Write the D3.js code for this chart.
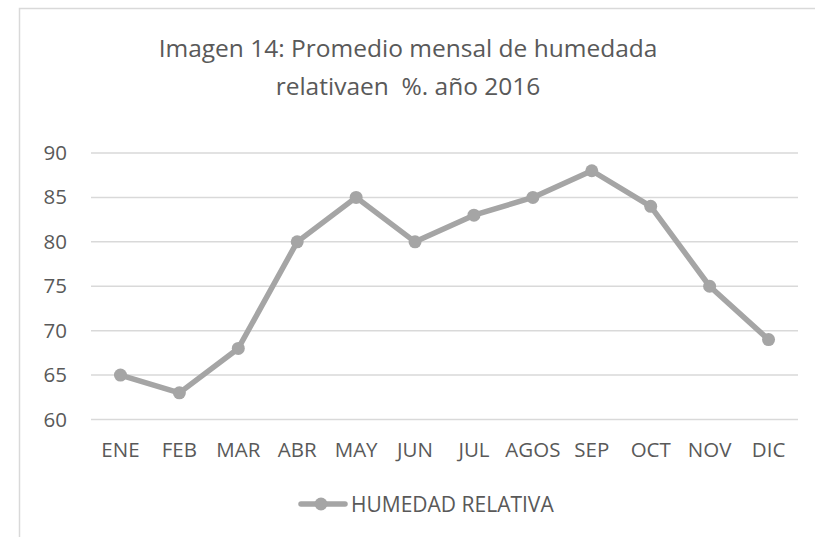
<!DOCTYPE html>
<html>
<head>
<meta charset="utf-8">
<script src="https://cdn.jsdelivr.net/npm/d3@7"></script>
<style>
  body { margin: 0; background: #fff; }
  text { font-family: "Open Sans", "Liberation Sans", sans-serif; fill: #595959; }
</style>
</head>
<body>
<svg width="815" height="537"></svg>
<script>
const width = 815;
const height = 537;

const months = ["ENE", "FEB", "MAR", "ABR", "MAY", "JUN", "JUL", "AGOS", "SEP", "OCT", "NOV", "DIC"];
const humedad = [65, 63, 68, 80, 85, 80, 83, 85, 88, 84, 75, 69];
const yTicks = [60, 65, 70, 75, 80, 85, 90];
const titleLines = ["Imagen 14: Promedio mensal de humedada", "relativaen  %. año 2016"];
const seriesName = "HUMEDAD RELATIVA";

const svg = d3.select("svg");
const lineColor = "#a5a5a5";

// chart frame
svg.append("rect")
    .attr("x", 19.5).attr("y", 8.5)
    .attr("width", 810).attr("height", 540)
    .attr("fill", "none")
    .attr("stroke", "#d9d9d9")
    .attr("stroke-width", 1.5);

const x = d3.scaleBand().domain(months).range([91, 798]);
const y = d3.scaleLinear().domain([60, 90]).range([419.5, 153]);

// title
svg.selectAll(".title")
    .data(titleLines)
    .join("text")
    .attr("class", "title")
    .attr("x", 408)
    .attr("y", (d, i) => 57 + i * 38)
    .attr("text-anchor", "middle")
    .style("font-size", "24.5px")
    .style("white-space", "pre")
    .text(d => d);

// gridlines
svg.append("g")
    .selectAll("line")
    .data(yTicks)
    .join("line")
    .attr("x1", 91).attr("x2", 798)
    .attr("y1", d => y(d)).attr("y2", d => y(d))
    .attr("stroke", "#d9d9d9")
    .attr("stroke-width", 1.5);

// y axis labels
const yAxis = svg.append("g")
    .attr("transform", "translate(71,0)")
    .call(d3.axisLeft(y).tickValues(yTicks).tickSize(0).tickPadding(4));
yAxis.select(".domain").remove();
yAxis.selectAll("text")
    .style("font-size", "20.5px")
    .style("font-family", null)
    .attr("fill", null);

// x axis labels
const xAxis = svg.append("g")
    .attr("transform", "translate(0,428)")
    .call(d3.axisBottom(x).tickSize(0));
xAxis.select(".domain").remove();
xAxis.selectAll("text")
    .attr("y", 28.5)
    .attr("dy", null)
    .style("font-size", "20.5px")
    .style("font-family", null)
    .attr("fill", null);

// line
const line = d3.line()
    .x((d, i) => x(months[i]) + x.bandwidth() / 2)
    .y(d => y(d));

svg.append("path")
    .datum(humedad)
    .attr("d", line)
    .attr("fill", "none")
    .attr("stroke", lineColor)
    .attr("stroke-width", 5.5)
    .attr("stroke-linejoin", "round");

svg.append("g")
    .selectAll("circle")
    .data(humedad)
    .join("circle")
    .attr("cx", (d, i) => x(months[i]) + x.bandwidth() / 2)
    .attr("cy", d => y(d))
    .attr("r", 6.5)
    .attr("fill", lineColor);

// legend
const legend = svg.append("g").attr("transform", "translate(301,504)");
legend.append("line")
    .attr("x1", 0).attr("x2", 44)
    .attr("stroke", lineColor)
    .attr("stroke-width", 5.5)
    .attr("stroke-linecap", "round");
legend.append("circle")
    .attr("cx", 20).attr("r", 6.5)
    .attr("fill", lineColor);
legend.append("text")
    .attr("x", 50).attr("y", 7.5)
    .style("font-size", "21px")
    .text(seriesName);
</script>
</body>
</html>
